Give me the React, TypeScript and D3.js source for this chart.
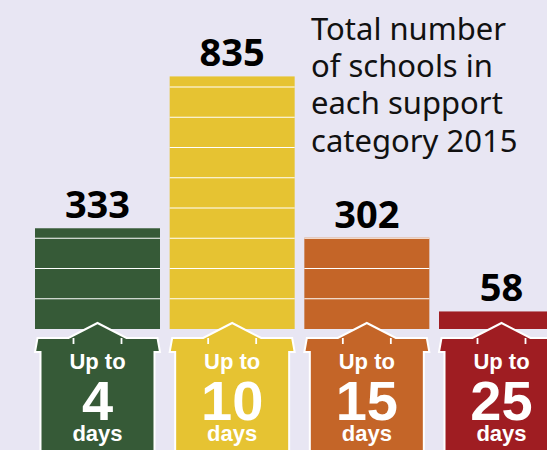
import React from "react";
import * as d3 from "d3";

const categories = ["4", "10", "15", "25"];
const values = [333, 835, 302, 58];
const colors = ["#365a37", "#e6c332", "#c46528", "#9f1d22"];
const titleLines = ["Total number", "of schools in", "each support", "category 2015"];
const gridStep = 100;

const W = 547;
const H = 450;

export default function App() {
  const x = d3.scaleBand<string>().domain(categories).range([35, 564]).paddingInner(0.0718).paddingOuter(0);
  const y = d3.scaleLinear().domain([0, 1000]).range([329, 329 - 302.5]);
  const bw = x.bandwidth();

  const housePath = (c: number) => {
    const p = d3.path();
    const bottom = H + 20;
    p.moveTo(c - 57, bottom);
    p.lineTo(c - 57, 352);
    p.lineTo(c - 62.5, 352);
    p.lineTo(c - 60, 338);
    p.lineTo(c - 29, 338);
    p.lineTo(c, 323);
    p.lineTo(c + 29, 338);
    p.lineTo(c + 60, 338);
    p.lineTo(c + 62.5, 352);
    p.lineTo(c + 57, 352);
    p.lineTo(c + 57, bottom);
    return p.toString();
  };

  return (
    <svg width={W} height={H} style={{ position: "absolute", left: 0, top: 0, background: "#e8e6f3" }}>
      <rect x={0} y={0} width={W} height={H} fill="#e8e6f3" />
      {titleLines.map((t, i) => (
        <text key={t} x={311} y={39.5 + i * 37.4} fontFamily="'Noto Sans'" fontSize={31} fill="#111">
          {t}
        </text>
      ))}
      {categories.map((cat, i) => {
        const x0 = x(cat)!;
        const c = x0 + bw / 2;
        const v = values[i];
        const lines = d3.range(gridStep, v, gridStep);
        return (
          <g key={cat}>
            <rect x={x0} y={y(v)} width={bw} height={y(0) - y(v)} fill={colors[i]} />
            {lines.map((l) => (
              <line key={l} x1={x0} x2={x0 + bw} y1={y(l)} y2={y(l)} stroke="#fff" strokeWidth={1.2} />
            ))}
            <text
              x={c}
              y={y(v) - 10}
              textAnchor="middle"
              fontFamily="'Noto Sans'"
              fontWeight="bold"
              fontSize={38}
              fill="#000"
            >
              {v}
            </text>
            <path d={housePath(c)} fill={colors[i]} stroke="#fff" strokeWidth={2} strokeLinejoin="miter" />
            <line x1={c - 24} x2={c - 24} y1={338} y2={344} stroke="#fff" strokeWidth={1.8} />
            <line x1={c + 24} x2={c + 24} y1={338} y2={344} stroke="#fff" strokeWidth={1.8} />
            <text x={c} y={368.5} textAnchor="middle" fontFamily="'Liberation Sans', Arial" fontWeight="bold" fontSize={22} fill="#fff">
              Up to
            </text>
            <text x={c} y={420} textAnchor="middle" fontFamily="'Liberation Sans', Arial" fontWeight="bold" fontSize={56} fill="#fff">
              {cat}
            </text>
            <text x={c} y={441} textAnchor="middle" fontFamily="'Liberation Sans', Arial" fontWeight="bold" fontSize={22} fill="#fff">
              days
            </text>
          </g>
        );
      })}
    </svg>
  );
}
